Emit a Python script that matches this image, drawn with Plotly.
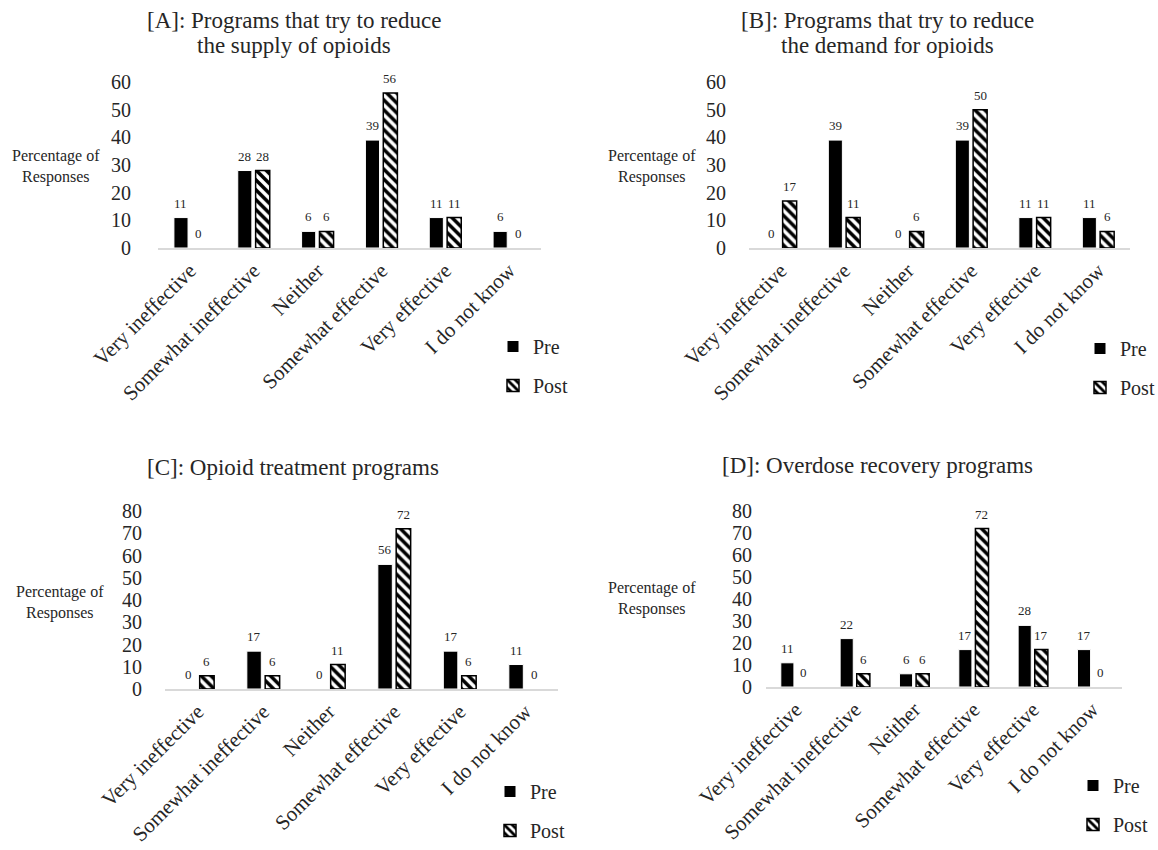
import plotly.graph_objects as go

categories = ["Very ineffective", "Somewhat ineffective", "Neither",
              "Somewhat effective", "Very effective", "I do not know"]

a_pre = [11, 28, 6, 39, 11, 6]
a_post = [0, 28, 6, 56, 11, 0]
b_pre = [0, 39, 0, 39, 11, 11]
b_post = [17, 11, 6, 50, 11, 6]
c_pre = [0, 17, 0, 56, 17, 11]
c_post = [6, 6, 11, 72, 6, 0]
d_pre = [11, 22, 6, 17, 28, 17]
d_post = [0, 6, 6, 72, 17, 0]

title_a = ["[A]: Programs that try to reduce", "the supply of opioids"]
title_b = ["[B]: Programs that try to reduce", "the demand for opioids"]
title_c = ["[C]: Opioid treatment programs"]
title_d = ["[D]: Overdose recovery programs"]
ytitle = "Percentage of<br>Responses"
yticks_ab = [0, 10, 20, 30, 40, 50, 60]
yticks_cd = [0, 10, 20, 30, 40, 50, 60, 70, 80]

W, H = 1158, 850
FONT = "Liberation Serif, Times New Roman, serif"
TXT = "#262626"

def px_x(v):
    return v / W

def px_y(v):
    return (H - v) / H

panels = [
    dict(pre=a_pre, post=a_post, titles=title_a, xd=(158, 541), yd=(82, 248), yt=yticks_ab,
         so=26, tx=294, ty=[21, 45], yl=(56, 166), leg=(493, 366)),
    dict(pre=b_pre, post=b_post, titles=title_b, xd=(749, 1130), yd=(82, 248), yt=yticks_ab,
         so=22, tx=887, ty=[21, 45], yl=(652, 167), leg=(1080, 368)),
    dict(pre=c_pre, post=c_post, titles=title_c, xd=(165, 558), yd=(511, 689), yt=yticks_cd,
         so=22, tx=293, ty=[467], yl=(60, 602), leg=(490, 811)),
    dict(pre=d_pre, post=d_post, titles=title_d, xd=(766, 1122), yd=(511, 687), yt=yticks_cd,
         so=13, tx=877, ty=[465], yl=(652, 598), leg=(1073, 805)),
]

BARGAP = 0.44
BARGROUPGAP = 0.21
slot = (1 - BARGAP) / 2

post_pattern = dict(shape="\\", fgcolor="black", bgcolor="white",
                    fgopacity=1, size=7, solidity=0.5, fillmode="overlay")

fig = go.Figure()
annotations = []
layout_axes = {}
legends = {}

for k, p in enumerate(panels):
    n = k + 1
    xa = "x" if n == 1 else f"x{n}"
    ya = "y" if n == 1 else f"y{n}"
    leg = "legend" if n == 1 else f"legend{n}"
    xs = list(range(len(categories)))

    fig.add_trace(go.Bar(
        x=xs, y=p["pre"], name="Pre", xaxis=xa, yaxis=ya, legend=leg,
        legendgroup=f"pre{n}", offsetgroup="pre",
        marker=dict(color="black", line=dict(color="white", width=1)),
        hoverinfo="skip",
    ))
    fig.add_trace(go.Bar(
        x=xs, y=p["post"], name="Post", xaxis=xa, yaxis=ya, legend=leg,
        legendgroup=f"post{n}", offsetgroup="post", showlegend=False,
        marker=dict(
            color="white",
            line=dict(color="black", width=[1.5 if v > 0 else 0 for v in p["post"]]),
            pattern=post_pattern,
        ),
        hoverinfo="skip",
    ))
    # legend entry for Post (bordered swatch)
    fig.add_trace(go.Bar(
        x=[None], y=[None], name="Post", xaxis=xa, yaxis=ya, legend=leg,
        legendgroup=f"post{n}", offsetgroup="post", showlegend=True,
        marker=dict(color="white", line=dict(color="black", width=1.5),
                    pattern=post_pattern),
        hoverinfo="skip",
    ))

    for i, (vpre, vpost) in enumerate(zip(p["pre"], p["post"])):
        for off, v in ((-slot / 2, vpre), (slot / 2, vpost)):
            annotations.append(dict(
                x=i + off, y=v, xref=xa, yref=ya, text=str(v), showarrow=False,
                yanchor="bottom", xanchor="center", yshift=5,
                font=dict(family=FONT, size=13, color=TXT),
            ))

    xkey = "xaxis" if n == 1 else f"xaxis{n}"
    ykey = "yaxis" if n == 1 else f"yaxis{n}"
    layout_axes[xkey] = dict(
        domain=[px_x(p["xd"][0]), px_x(p["xd"][1])], anchor=ya,
        range=[-0.5, len(categories) - 0.5],
        tickmode="array", tickvals=xs, ticktext=categories, tickangle=-45,
        showline=True, linecolor="#d9d9d9", linewidth=2, showgrid=False,
        zeroline=False, ticks="", tickfont=dict(family=FONT, size=21, color=TXT),
        fixedrange=True,
    )
    layout_axes[ykey] = dict(
        domain=[px_y(p["yd"][1]), px_y(p["yd"][0])], anchor=xa,
        range=[0, p["yt"][-1]], tickmode="array", tickvals=p["yt"],
        showgrid=False, zeroline=False, showline=False, ticks="",
        ticklabelstandoff=p["so"],
        tickfont=dict(family=FONT, size=20, color=TXT), fixedrange=True,
    )

    for line, yy in zip(p["titles"], p["ty"]):
        annotations.append(dict(
            x=px_x(p["tx"]), y=px_y(yy), xref="paper", yref="paper", text=line,
            showarrow=False, xanchor="center", yanchor="middle",
            font=dict(family=FONT, size=23, color=TXT),
        ))
    annotations.append(dict(
        x=px_x(p["yl"][0]), y=px_y(p["yl"][1]), xref="paper", yref="paper",
        text=ytitle, showarrow=False, xanchor="center", yanchor="middle",
        font=dict(family=FONT, size=16, color=TXT),
    ))

    legends[leg] = dict(
        x=px_x(p["leg"][0]), y=px_y(p["leg"][1]), xanchor="left", yanchor="middle",
        orientation="v", bgcolor="rgba(0,0,0,0)", tracegroupgap=10,
        font=dict(family=FONT, size=20, color=TXT), traceorder="grouped",
    )

fig.update_layout(
    width=W, height=H, margin=dict(l=0, r=0, t=0, b=0, autoexpand=False),
    paper_bgcolor="white", plot_bgcolor="white",
    barmode="group", bargap=BARGAP, bargroupgap=BARGROUPGAP,
    annotations=annotations, showlegend=True,
    **layout_axes, **legends,
)

fig.write_html("out.html", config={"displayModeBar": False},
               post_script="document.body.style.margin='0';document.body.style.overflow='hidden';")
